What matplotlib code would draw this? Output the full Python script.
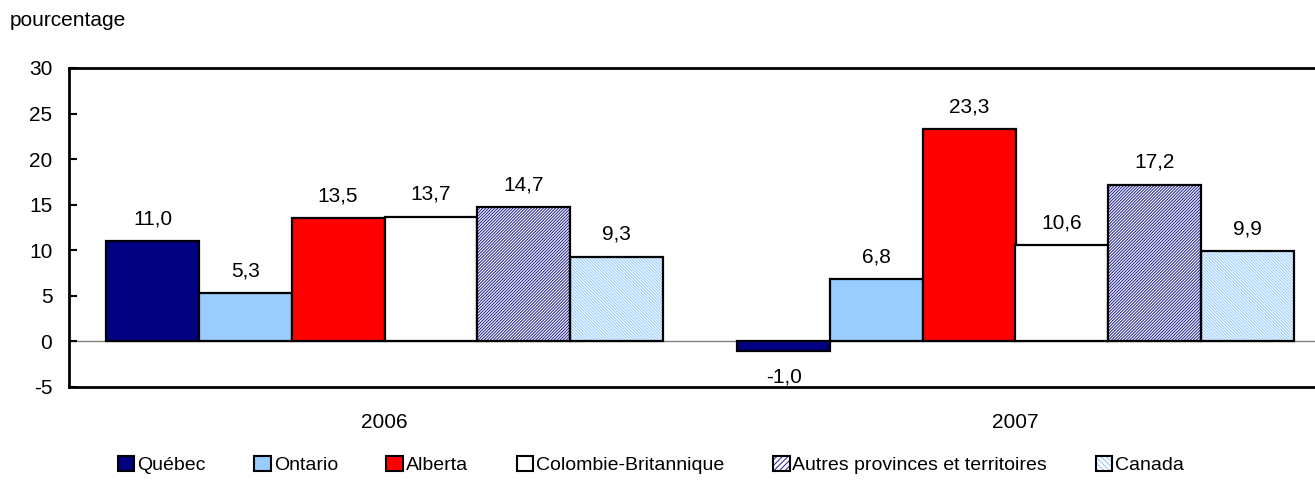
import matplotlib
matplotlib.use("Agg")
import matplotlib.pyplot as plt
from matplotlib.patches import Patch
import numpy as np

plt.rcParams['font.family'] = ['Liberation Sans', 'DejaVu Sans']
plt.rcParams['hatch.linewidth'] = 0.8

years = ["2006", "2007"]
regions = ["Québec", "Ontario", "Alberta", "Colombie-Britannique",
           "Autres provinces et territoires", "Canada"]
quebec = [11.0, -1.0]
ontario = [5.3, 6.8]
alberta = [13.5, 23.3]
colombie_britannique = [13.7, 10.6]
autres = [14.7, 17.2]
canada = [9.3, 9.9]
series = [quebec, ontario, alberta, colombie_britannique, autres, canada]

styles = [
    dict(facecolor="#000080", hatch=None, hatchcolor=None),
    dict(facecolor="#99CCFF", hatch=None, hatchcolor=None),
    dict(facecolor="#FF0000", hatch=None, hatchcolor=None),
    dict(facecolor="#FFFFFF", hatch=None, hatchcolor=None),
    dict(facecolor="#FFFFFF", hatch="/" * 11, hatchcolor="#333399"),
    dict(facecolor="#FFFFFF", hatch="\\" * 11, hatchcolor="#99CCFF"),
]

FS = 15
LEG_FS = 14

fig = plt.figure(figsize=(13.15, 4.84), dpi=100)
ax = fig.add_axes([69 / 1315, 1 - 387 / 484, 1262 / 1315, 319 / 484])

x = np.arange(len(years))
w = 0.147
n = len(series)

ax.axhline(0, color="#808080", lw=1.0, zorder=1)

for i, (vals, st) in enumerate(zip(series, styles)):
    pos = x + (i - (n - 1) / 2) * w
    bars = ax.bar(pos, vals, width=w, color=st["facecolor"], edgecolor="black",
                  linewidth=1.6, zorder=2)
    if st["hatch"]:
        # hatch lines take the edge colour, so draw the black outline separately
        for b in bars:
            b.set_hatch(st["hatch"])
            b.set_edgecolor(st["hatchcolor"])
            b.set_linewidth(0)
        ax.bar(pos, vals, width=w, facecolor="none", edgecolor="black",
               linewidth=1.6, zorder=3)
    for p, v in zip(pos, vals):
        lbl = f"{v:.1f}".replace(".", ",")
        if v >= 0:
            ax.annotate(lbl, (p, v), xytext=(0, 12), textcoords="offset points",
                        ha="center", va="baseline", fontsize=FS)
        else:
            ax.annotate(lbl, (p, v), xytext=(0, -12), textcoords="offset points",
                        ha="center", va="top", fontsize=FS)

ax.set_xlim(-0.5, 1.5)
ax.set_ylim(-5, 30)
ax.set_yticks(np.arange(-5, 31, 5))
ax.set_yticklabels([str(v) for v in range(-5, 31, 5)], fontsize=FS)
ax.set_xticks(x)
ax.set_xticklabels(years, fontsize=FS)
ax.tick_params(axis="x", length=0, pad=19)
ax.tick_params(axis="y", direction="in", length=6, width=1.5, pad=12)
for s in ["left", "top", "bottom"]:
    ax.spines[s].set_linewidth(2.0)
ax.spines["right"].set_visible(False)

fig.text(10 / 1315, 1 - 20 / 484, "pourcentage", fontsize=FS, va="center")

handles = []
for st in styles:
    if st["hatch"]:
        fill = Patch(facecolor=st["facecolor"], edgecolor=st["hatchcolor"],
                     hatch=st["hatch"][:6], linewidth=0)
        outline = Patch(facecolor="none", edgecolor="black", linewidth=1.5)
        handles.append((fill, outline))
    else:
        handles.append(Patch(facecolor=st["facecolor"], edgecolor="black", linewidth=1.5))

fig.legend(handles, regions, loc="center", bbox_to_anchor=(0.495, 1 - 465 / 484),
           ncol=6, frameon=False, fontsize=LEG_FS, handlelength=0.85,
           handleheight=0.85, handletextpad=0.15, columnspacing=2.5,
           borderaxespad=0)

fig.savefig("out.png", dpi=100)
